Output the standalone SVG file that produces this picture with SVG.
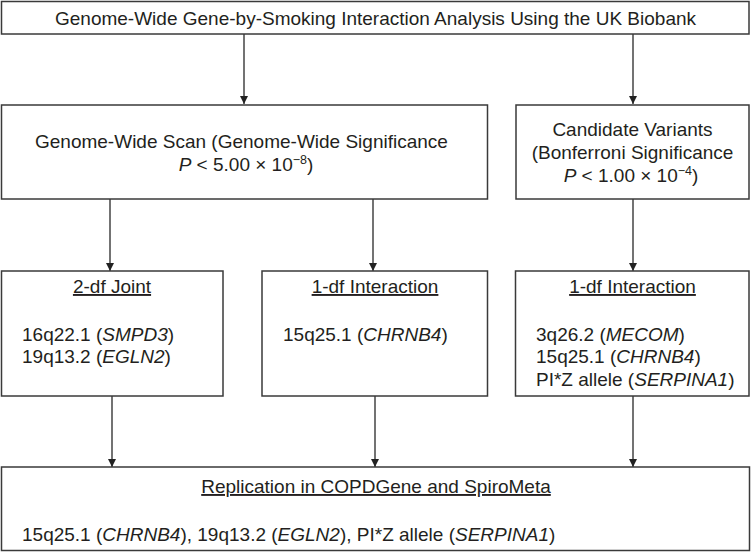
<svg xmlns="http://www.w3.org/2000/svg" width="751" height="552" viewBox="0 0 751 552">
<defs>
<style>
.box{fill:#fff;stroke:#3a3a3a;stroke-width:1.5}
.t{font-family:"Liberation Sans",Arial,sans-serif;font-size:19px;fill:#231f20}
.c{text-anchor:middle}
.i{font-style:italic}
.u{text-decoration:underline}
.sup{font-size:12.5px}
.conn line{stroke:#444;stroke-width:1.5;fill:none}
</style>
<marker id="ah" viewBox="0 0 10 10" refX="10" refY="5" markerWidth="9" markerHeight="8" markerUnits="userSpaceOnUse" orient="auto">
<path d="M0,0 L10,5 L0,10 Z" fill="#222"/>
</marker>
</defs>
<rect width="751" height="552" fill="#fff"/>
<g class="conn">
<line x1="244" y1="34" x2="244" y2="104" marker-end="url(#ah)"/>
<line x1="633" y1="34" x2="633" y2="104" marker-end="url(#ah)"/>
<line x1="110" y1="199" x2="110" y2="271" marker-end="url(#ah)"/>
<line x1="373" y1="199" x2="373" y2="271" marker-end="url(#ah)"/>
<line x1="633" y1="199" x2="633" y2="271" marker-end="url(#ah)"/>
<line x1="112" y1="396" x2="112" y2="467" marker-end="url(#ah)"/>
<line x1="375" y1="396" x2="375" y2="467" marker-end="url(#ah)"/>
<line x1="633" y1="396" x2="633" y2="467" marker-end="url(#ah)"/>
</g>
<g id="top">
<rect class="box" x="1.5" y="1.5" width="747.5" height="32.5"/>
<text class="t c" x="375.5" y="25">Genome-Wide Gene-by-Smoking Interaction Analysis Using the UK Biobank</text>
</g>
<g id="scan">
<rect class="box" x="1.5" y="105" width="486" height="94"/>
<text class="t" x="35" y="148">Genome-Wide Scan (Genome-Wide Significance</text>
<text class="t c" x="246" y="171"><tspan class="i">P</tspan> &lt; 5.00 × 10<tspan class="sup" dy="-7">−8</tspan><tspan dy="7">)</tspan></text>
</g>
<g id="candidate">
<rect class="box" x="516" y="105" width="233" height="94"/>
<text class="t c" x="632.5" y="136">Candidate Variants</text>
<text class="t c" x="632.5" y="159">(Bonferroni Significance</text>
<text class="t c" x="631" y="182"><tspan class="i">P</tspan> &lt; 1.00 × 10<tspan class="sup" dy="-7">−4</tspan><tspan dy="7">)</tspan></text>
</g>
<g id="joint">
<rect class="box" x="1.5" y="271" width="221.5" height="125"/>
<text class="t c u" x="112" y="293">2-df Joint</text>
<text class="t" x="22" y="341">16q22.1 (<tspan class="i">SMPD3</tspan>)</text>
<text class="t" x="22" y="363">19q13.2 (<tspan class="i">EGLN2</tspan>)</text>
</g>
<g id="interaction1">
<rect class="box" x="262" y="271" width="225.5" height="125"/>
<text class="t c u" x="375" y="293">1-df Interaction</text>
<text class="t" x="283" y="341">15q25.1 (<tspan class="i">CHRNB4</tspan>)</text>
</g>
<g id="interaction2">
<rect class="box" x="515.5" y="271" width="233.5" height="125"/>
<text class="t c u" x="632.5" y="293">1-df Interaction</text>
<text class="t" x="536" y="341">3q26.2 (<tspan class="i">MECOM</tspan>)</text>
<text class="t" x="536" y="363">15q25.1 (<tspan class="i">CHRNB4</tspan>)</text>
<text class="t" x="536" y="386">PI*Z allele (<tspan class="i">SERPINA1</tspan>)</text>
</g>
<g id="replication">
<rect class="box" x="1.5" y="467" width="748" height="83.5"/>
<text class="t c u" x="376" y="493">Replication in COPDGene and SpiroMeta</text>
<text class="t" x="22" y="541">15q25.1 (<tspan class="i">CHRNB4</tspan>), 19q13.2 (<tspan class="i">EGLN2</tspan>), PI*Z allele (<tspan class="i">SERPINA1</tspan>)</text>
</g>
</svg>
